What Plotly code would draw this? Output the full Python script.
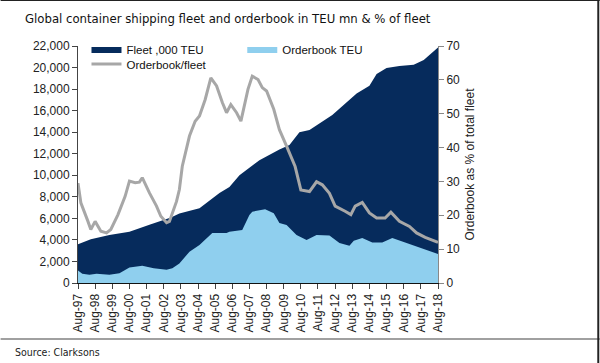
import plotly.graph_objects as go

# ---- data ----
fleet_dates = ["1997-08", "1998-05", "1999-06", "2000-08", "2001-10", "2003-01", "2003-07",
               "2004-09", "2005-11", "2006-06", "2007-01", "2008-03", "2009-05", "2009-12",
               "2010-07", "2011-02", "2012-06", "2013-11", "2014-08", "2015-01", "2015-08",
               "2016-05", "2017-03", "2017-10", "2018-08"]
fleet_teu = [3600, 4050, 4450, 4760, 5400, 6090, 6450,
             6950, 8350, 8900, 10000, 11400, 12400, 12800,
             14000, 14200, 15600, 17600, 18300, 19400, 19950,
             20150, 20250, 20700, 21850]

order_dates = ["1997-08", "1997-11", "1998-04", "1998-09", "1999-06", "2000-01", "2000-08",
               "2001-05", "2002-01", "2002-10", "2003-02", "2003-07", "2004-02", "2004-09",
               "2005-06", "2006-04", "2006-06", "2007-03", "2007-08", "2007-10", "2008-07",
               "2009-01", "2009-05", "2009-10", "2010-05", "2010-12", "2011-07", "2012-04",
               "2012-11", "2013-06", "2013-09", "2014-03", "2014-10", "2015-05", "2015-12",
               "2016-07", "2017-02", "2017-09", "2018-08"]
order_teu = [1150, 850, 770, 860, 770, 900, 1450,
             1600, 1360, 1230, 1360, 1820, 2900, 3530,
             4640, 4640, 4760, 4920, 6310, 6620, 6840,
             6470, 5570, 5380, 4450, 3990, 4450, 4400,
             3710, 3460, 3920, 4170, 3770, 3770, 4170,
             3860, 3550, 3240, 2700]

ratio_dates = ["1997-08", "1997-10", "1998-03", "1998-05", "1998-08", "1998-12", "1999-04",
               "1999-07", "1999-12", "2000-05", "2000-08", "2000-12", "2001-03", "2001-05",
               "2001-10", "2002-03", "2002-06", "2002-10", "2002-12", "2003-05", "2003-07",
               "2003-09", "2004-02", "2004-06", "2004-09", "2005-01", "2005-05", "2005-09",
               "2006-01", "2006-04", "2006-07", "2006-11", "2007-02", "2007-07", "2007-10",
               "2008-02", "2008-05", "2008-08", "2009-01", "2009-05", "2009-10", "2010-04",
               "2010-08", "2011-02", "2011-07", "2011-11", "2012-04", "2012-08", "2013-03",
               "2013-07", "2013-10", "2014-03", "2014-08", "2015-01", "2015-07", "2015-11",
               "2016-05", "2016-12", "2017-05", "2017-11", "2018-08"]
ratio_pct = [29.5, 23.7, 18.2, 15.8, 18.2, 15.3, 14.8,
             15.8, 20.2, 25.6, 30.1, 29.6, 29.8, 31.1,
             26.6, 22.7, 19.7, 17.8, 18.2, 24.1, 27.6,
             34.5, 43.4, 47.8, 49.3, 54.2, 60.6, 58.2,
             53.3, 50.3, 52.7, 50.3, 47.8, 57.2, 61.1,
             60.1, 57.7, 56.7, 51.3, 45.3, 40.4, 34.4,
             27.5, 27.0, 29.9, 29.0, 26.5, 22.7, 21.2,
             20.2, 22.7, 23.8, 20.7, 19.2, 19.2, 20.9,
             18.2, 16.7, 14.8, 13.5, 12.0]

left_ticks = list(range(0, 22001, 2000))
right_ticks = list(range(0, 71, 10))

# ---- style ----
NAVY = "#062b5c"
LIGHT = "#8fcfee"
GREY = "#a7a7a7"
FONT = "Liberation Sans, Arial, sans-serif"
NARROW = "Liberation Sans Narrow, DejaVu Sans Condensed, Arial Narrow, sans-serif"

fig = go.Figure()
fig.add_trace(go.Scatter(x=fleet_dates, y=fleet_teu, name="Fleet ,000 TEU", mode="lines",
                         line=dict(width=0, color=NAVY), fill="tozeroy", fillcolor=NAVY,
                         legend="legend"))
fig.add_trace(go.Scatter(x=order_dates, y=order_teu, name="Orderbook TEU", mode="lines",
                         line=dict(width=0, color=LIGHT), fill="tozeroy", fillcolor=LIGHT,
                         legend="legend2"))
fig.add_trace(go.Scatter(x=ratio_dates, y=ratio_pct, name="Orderbook/fleet", mode="lines",
                         line=dict(width=3, color=GREY), yaxis="y2", legend="legend3"))

L, R, T, B = 77.5, 162, 46, 80
W, H = 600, 363
pw, ph = W - L - R, H - T - B


def px(X):
    return (X - L) / pw


def py(Y):
    return (H - B - Y) / ph


leg_common = dict(orientation="v", xanchor="left", yanchor="middle", bgcolor="rgba(0,0,0,0)",
                  font=dict(family=FONT, size=11.5, color="#111"), itemwidth=30,
                  tracegroupgap=0)

fig.update_layout(
    width=W, height=H,
    margin=dict(l=L, r=R, t=T, b=B, pad=0, autoexpand=False),
    paper_bgcolor="white", plot_bgcolor="white",
    font=dict(family=FONT, size=12, color="#222"),
    showlegend=True,
    legend=dict(x=px(86), y=py(49), **leg_common),
    legend2=dict(x=px(242), y=py(49), **leg_common),
    legend3=dict(x=px(86), y=py(64), **leg_common),
    xaxis=dict(type="date", range=["1997-08-01", "2018-08-01"], tick0="1997-08-01", dtick="M12",
               tickformat="%b-%y", tickangle=-90, ticks="outside", ticklen=5, tickcolor="#444",
               showline=True, linecolor="#111", linewidth=1, showgrid=False, zeroline=False,
               tickfont=dict(family=FONT, size=12, color="#222")),
    yaxis=dict(range=[0, 22000], tickvals=left_ticks, tickformat=",", ticks="outside", ticklen=5,
               tickcolor="#444", showline=True, linecolor="#444", linewidth=1, showgrid=False,
               zeroline=False, tickfont=dict(family=FONT, size=12, color="#222")),
    yaxis2=dict(range=[0, 70], tickvals=right_ticks, ticksuffix="%", overlaying="y", side="right",
                ticks="outside", ticklen=5, tickcolor="#888", showline=True, linecolor="#888",
                linewidth=1, showgrid=False, zeroline=False,
                tickfont=dict(family=FONT, size=12, color="#222"),
                title=dict(text="Orderbook as % of total fleet", standoff=6,
                           font=dict(family=FONT, size=12, color="#222"))),
    annotations=[
        dict(text="Global container shipping fleet and orderbook in TEU mn &amp; % of fleet",
             xref="paper", yref="paper", x=px(22), y=py(18), xanchor="left", yanchor="middle",
             showarrow=False, font=dict(family=NARROW, size=13, color="#111")),
        dict(text="Source: Clarksons", xref="paper", yref="paper", x=px(12), y=py(352),
             xanchor="left", yanchor="middle", showarrow=False,
             font=dict(family=NARROW, size=10.5, color="#222")),
    ],
    shapes=[
        dict(type="line", xref="paper", yref="paper", x0=px(0), x1=px(600), y0=py(339), y1=py(339),
             line=dict(color="#a0a0a0", width=2)),
        dict(type="line", xref="paper", yref="paper", x0=px(0), x1=px(600), y0=py(0.5), y1=py(0.5),
             line=dict(color="#222", width=1)),
        dict(type="line", xref="paper", yref="paper", x0=px(598.5), x1=px(598.5), y0=py(0), y1=py(363),
             line=dict(color="#222", width=2)),
    ],
)

fig.write_html("out.html", config={"displayModeBar": False},
               post_script="document.body.style.margin='0';document.body.style.overflow='hidden';")
